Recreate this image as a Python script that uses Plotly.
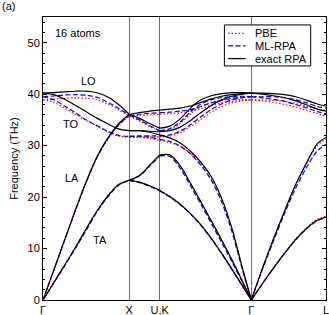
import plotly.graph_objects as go

# ---------------- path / labels ----------------
hs_q = [0.0, 1.0, 1.3536, 2.4142, 3.2802]
hs_labels = ["Γ", "X", "U,K", "Γ", "L"]

q_GX = [0.0, 0.125, 0.25, 0.375, 0.5, 0.625, 0.75, 0.875, 1.0]
q_XK = [1.0, 1.118, 1.236, 1.3536]
q_KG = [1.3536, 1.47, 1.59, 1.71, 1.83, 1.95, 2.07, 2.19, 2.31, 2.4142]
q_GL = [2.4142, 2.54, 2.67, 2.80, 2.93, 3.06, 3.18, 3.2802]

# ---------------- exact RPA (THz) ----------------
exact_GX_TA = [0, 3.4, 6.75, 10.2, 13.8, 17.3, 20.2, 22.4, 23.3]
exact_GX_LA = [0, 5.8, 11.65, 17.45, 23.0, 27.8, 31.45, 34.2, 36.1]
exact_GX_TO = [40.2, 39.9, 39.0, 37.85, 36.6, 35.35, 34.25, 33.25, 32.9]
exact_GX_LO = [40.2, 40.32, 40.45, 40.57, 40.6, 40.28, 39.45, 38.0, 36.1]

exact_XK_TA1 = [23.3, 22.9, 22.2, 21.3]
exact_XK_TA2 = [23.3, 24.2, 26.2, 28.2]
exact_XK_C = [32.9, 32.9, 32.6, 32.1]
exact_XK_E = [32.9, 32.9, 32.8, 32.7]
exact_XK_B = [36.1, 35.3, 34.3, 33.4]
exact_XK_A = [36.1, 36.4, 36.7, 36.9]

exact_KG_TA1 = [21.3, 20.1, 18.6, 16.8, 14.6, 12.0, 9.1, 6.0, 2.8, 0]
exact_KG_TA2 = [28.2, 28.2, 26.1, 22.7, 19.1, 15.4, 11.7, 7.8, 3.7, 0]
exact_KG_C = [32.1, 31.5, 30.5, 28.9, 26.8, 24.0, 19.8, 13.9, 6.3, 0]
exact_KG_E = [32.7, 32.9, 33.6, 34.9, 36.4, 37.8, 38.9, 39.6, 40.0, 40.2]
exact_KG_B = [33.4, 33.8, 35.2, 37.3, 38.9, 39.7, 40.1, 40.3, 40.3, 40.2]
exact_KG_A = [36.9, 37.1, 37.3, 37.7, 38.4, 39.1, 39.6, 39.9, 40.1, 40.2]

exact_GL_TA = [0, 3.1, 6.2, 9.1, 11.8, 14.0, 15.5, 16.1]
exact_GL_LA = [0, 6.0, 11.8, 17.3, 22.5, 26.8, 30.4, 31.6]
exact_GL_TO = [40.2, 40.2, 40.1, 39.9, 39.5, 38.8, 38.1, 37.7]
exact_GL_LO = [40.2, 40.0, 39.7, 39.3, 38.7, 37.9, 37.1, 36.7]

# ---------------- ML-RPA (THz) ----------------
ml_GX_TA = [0, 3.3, 6.6, 10.0, 13.5, 17.1, 20.0, 22.3, 23.2]
ml_GX_LA = [0, 5.8, 11.6, 17.4, 22.9, 27.7, 31.3, 34.0, 35.9]
ml_GX_TO = [39.5, 38.9, 37.7, 36.4, 35.0, 33.9, 32.8, 32.0, 31.8]
ml_GX_LO = [39.5, 39.65, 39.85, 39.9, 39.8, 39.4, 38.45, 37.25, 35.9]

ml_XK_TA1 = [23.2, 22.8, 22.1, 21.2]
ml_XK_TA2 = [23.2, 24.1, 26.0, 28.0]
ml_XK_C = [31.8, 31.8, 31.6, 31.2]
ml_XK_E = [31.8, 31.9, 31.9, 31.9]
ml_XK_B = [35.9, 35.0, 33.9, 32.9]
ml_XK_A = [35.9, 36.1, 36.3, 36.4]

ml_KG_TA1 = [21.2, 20.0, 18.5, 16.7, 14.5, 11.9, 9.0, 5.9, 2.8, 0]
ml_KG_TA2 = [28.0, 27.9, 25.6, 22.2, 18.6, 14.9, 11.2, 7.4, 3.5, 0]
ml_KG_C = [31.2, 30.8, 29.9, 28.4, 26.2, 23.3, 19.1, 13.3, 6.0, 0]
ml_KG_E = [31.9, 32.1, 32.8, 34.1, 35.6, 37.0, 38.1, 38.9, 39.3, 39.5]
ml_KG_B = [32.9, 33.3, 34.6, 36.6, 38.1, 38.9, 39.3, 39.5, 39.6, 39.5]
ml_KG_A = [36.4, 36.5, 36.7, 37.0, 37.6, 38.3, 38.8, 39.2, 39.4, 39.5]

ml_GL_TA = [0, 3.1, 6.1, 9.0, 11.7, 13.9, 15.4, 16.0]
ml_GL_LA = [0, 5.8, 11.4, 16.8, 21.8, 25.9, 29.0, 30.2]
ml_GL_TO = [39.5, 39.5, 39.5, 39.3, 38.9, 38.3, 37.6, 37.3]
ml_GL_LO = [39.5, 39.3, 39.0, 38.6, 38.0, 37.3, 36.6, 36.2]

# ---------------- PBE (THz) ----------------
pbe_GX_TA = [0, 3.4, 6.75, 10.2, 13.8, 17.3, 20.2, 22.4, 23.3]
pbe_GX_LA = [0, 5.7, 11.5, 17.3, 22.8, 27.6, 31.2, 33.9, 35.7]
pbe_GX_TO = [38.9, 38.4, 37.3, 36.1, 34.9, 33.8, 32.7, 31.85, 31.6]
pbe_GX_LO = [38.9, 39.05, 39.2, 39.3, 39.2, 38.95, 38.1, 37.0, 35.7]

pbe_XK_TA1 = [23.3, 22.9, 22.2, 21.3]
pbe_XK_TA2 = [23.3, 24.2, 26.1, 28.1]
pbe_XK_C = [31.6, 31.6, 31.4, 31.0]
pbe_XK_E = [31.6, 31.7, 31.7, 31.7]
pbe_XK_B = [35.7, 34.8, 33.7, 32.8]
pbe_XK_A = [35.7, 35.9, 36.0, 36.1]

pbe_KG_TA1 = [21.3, 20.1, 18.6, 16.8, 14.6, 12.0, 9.1, 6.0, 2.8, 0]
pbe_KG_TA2 = [28.1, 28.1, 26.0, 22.6, 19.0, 15.3, 11.6, 7.7, 3.7, 0]
pbe_KG_C = [31.0, 30.6, 29.8, 28.5, 26.5, 23.7, 19.6, 13.8, 6.2, 0]
pbe_KG_E = [31.7, 31.9, 32.5, 33.7, 35.1, 36.5, 37.6, 38.3, 38.7, 38.9]
pbe_KG_B = [32.8, 33.1, 34.3, 36.2, 37.6, 38.4, 38.8, 39.0, 39.0, 38.9]
pbe_KG_A = [36.1, 36.2, 36.4, 36.7, 37.2, 37.8, 38.3, 38.6, 38.8, 38.9]

pbe_GL_TA = [0, 3.1, 6.2, 9.1, 11.9, 14.1, 15.7, 16.3]
pbe_GL_LA = [0, 6.0, 11.8, 17.2, 22.4, 26.7, 30.0, 31.3]
pbe_GL_TO = [38.9, 38.9, 38.8, 38.6, 38.2, 37.6, 37.1, 36.9]
pbe_GL_LO = [38.9, 38.7, 38.4, 38.0, 37.5, 36.8, 36.2, 35.8]

methods = [
    ("PBE", "red", "1.5px,2px", 1.2,
     [(q_GX, [pbe_GX_TA, pbe_GX_LA, pbe_GX_TO, pbe_GX_LO]),
      (q_XK, [pbe_XK_TA1, pbe_XK_TA2, pbe_XK_C, pbe_XK_E, pbe_XK_B, pbe_XK_A]),
      (q_KG, [pbe_KG_TA1, pbe_KG_TA2, pbe_KG_C, pbe_KG_E, pbe_KG_B, pbe_KG_A]),
      (q_GL, [pbe_GL_TA, pbe_GL_LA, pbe_GL_TO, pbe_GL_LO])]),
    ("ML-RPA", "#0000ff", "5px,2.5px", 1.2,
     [(q_GX, [ml_GX_TA, ml_GX_LA, ml_GX_TO, ml_GX_LO]),
      (q_XK, [ml_XK_TA1, ml_XK_TA2, ml_XK_C, ml_XK_E, ml_XK_B, ml_XK_A]),
      (q_KG, [ml_KG_TA1, ml_KG_TA2, ml_KG_C, ml_KG_E, ml_KG_B, ml_KG_A]),
      (q_GL, [ml_GL_TA, ml_GL_LA, ml_GL_TO, ml_GL_LO])]),
    ("exact RPA", "black", "solid", 1.2,
     [(q_GX, [exact_GX_TA, exact_GX_LA, exact_GX_TO, exact_GX_LO]),
      (q_XK, [exact_XK_TA1, exact_XK_TA2, exact_XK_C, exact_XK_E, exact_XK_B, exact_XK_A]),
      (q_KG, [exact_KG_TA1, exact_KG_TA2, exact_KG_C, exact_KG_E, exact_KG_B, exact_KG_A]),
      (q_GL, [exact_GL_TA, exact_GL_LA, exact_GL_TO, exact_GL_LO])]),
]

FONT = "Liberation Sans, Arial, sans-serif"
fig = go.Figure()
for name, color, dash, width, segs in methods:
    for qs, branches in segs:
        for br in branches:
            fig.add_trace(go.Scatter(
                x=qs, y=br, mode="lines", name=name, legendgroup=name,
                showlegend=False, hoverinfo="skip",
                line=dict(color=color, dash=dash, width=width,
                          shape="spline", smoothing=0.9)))

# legend drawn by hand (compact, like the original)
leg_x0, leg_x1, leg_y0, leg_y1 = 0.641, 0.946, 0.827, 0.972
fig.add_shape(type="rect", xref="paper", yref="paper",
              x0=leg_x0, x1=leg_x1, y0=leg_y0, y1=leg_y1,
              line=dict(color="black", width=1), fillcolor="white", layer="above")
leg_rows = [0.942, 0.898, 0.853]
for (name, color, dash, width, _), yy in zip(methods, leg_rows):
    fig.add_shape(type="line", xref="paper", yref="paper",
                  x0=0.654, x1=0.716, y0=yy, y1=yy, layer="above",
                  line=dict(color=color, dash=dash, width=width))
    fig.add_annotation(xref="paper", yref="paper", x=0.742, y=yy, text=name,
                       showarrow=False, xanchor="left", yanchor="middle",
                       font=dict(size=11, color="black", family=FONT))

labels = [("16 atoms", 0.406, 51.9), ("LO", 0.533, 42.6), ("TO", 0.325, 34.2),
          ("LA", 0.336, 23.7), ("TA", 0.661, 11.7)]
for txt, xx, yy in labels:
    fig.add_annotation(x=xx, y=yy, text=txt, showarrow=False,
                       font=dict(size=11, color="black", family=FONT))
fig.add_annotation(xref="paper", yref="paper", x=-0.152, y=1.039, text="(a)",
                   showarrow=False, xanchor="left", yanchor="middle",
                   font=dict(size=11, color="black", family=FONT))

fig.update_layout(
    width=329, height=315, margin=dict(l=43, r=3, t=17, b=15, autoexpand=False),
    paper_bgcolor="white", plot_bgcolor="white",
    font=dict(family=FONT, size=11, color="black"),
    showlegend=False,
    xaxis=dict(range=[0, hs_q[-1]], tickmode="array", tickvals=hs_q,
               ticktext=hs_labels, ticks="", showgrid=True, gridcolor="#707070",
               gridwidth=1, zeroline=False, showline=True, linecolor="black",
               linewidth=1, mirror=True, tickfont=dict(size=11),
               ticklabelstandoff=0, automargin=False, ticklabeloverflow="allow"),
    yaxis=dict(range=[0, 55], dtick=10, ticks="inside", ticklen=4, tickwidth=1,
               tickcolor="black", showgrid=False, zeroline=False, showline=True,
               linecolor="black", linewidth=1, mirror="ticks", automargin=False,
               minor=dict(dtick=2, ticks="inside", ticklen=2, tickcolor="black"),
               title=dict(text="Frequency (THz)", font=dict(size=11), standoff=6),
               tickfont=dict(size=11)),
)
fig.write_html("out.html", config={"displayModeBar": False},
               post_script="document.body.style.margin='0';document.body.style.overflow='hidden';")
